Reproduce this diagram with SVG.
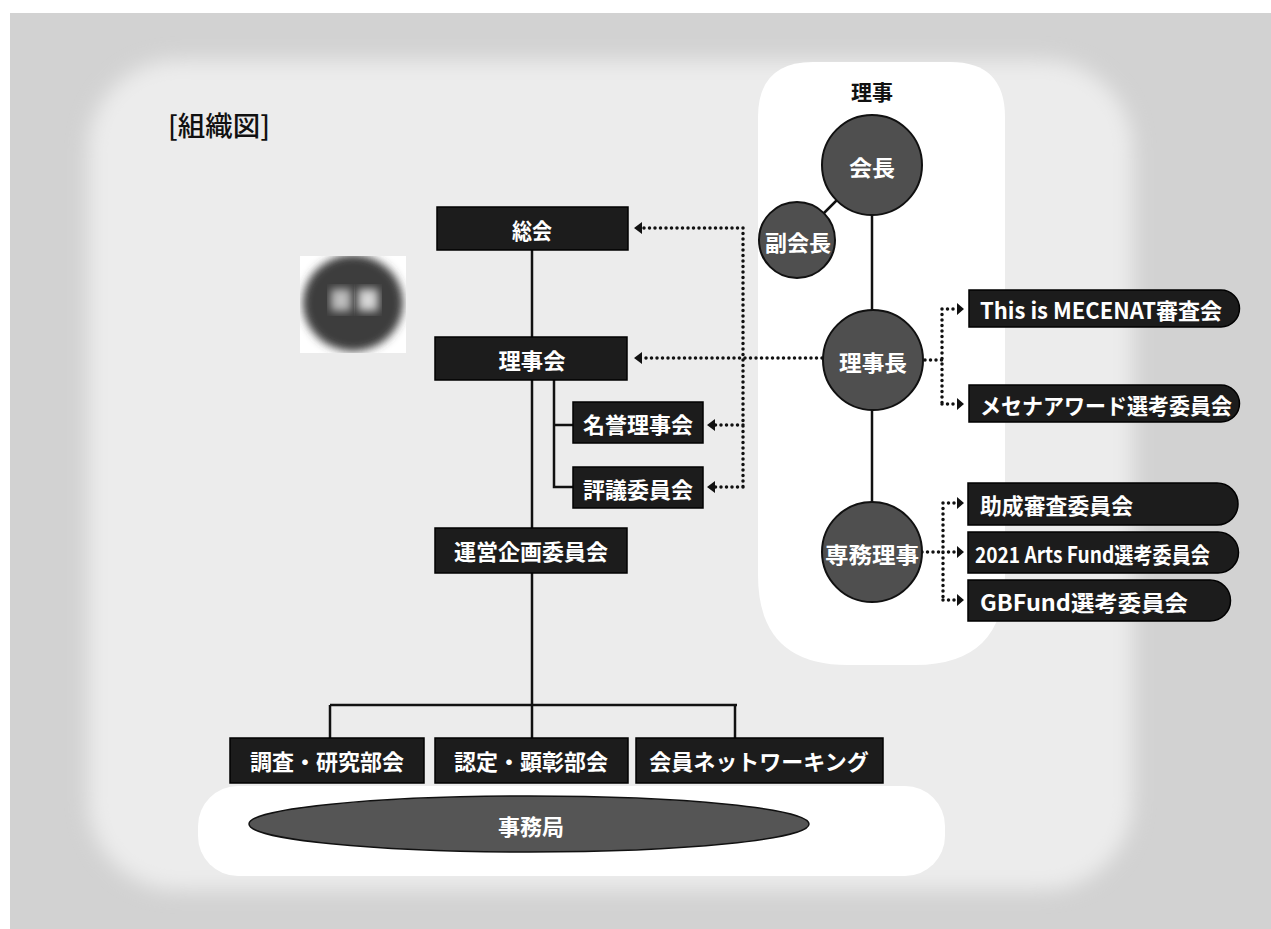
<svg xmlns="http://www.w3.org/2000/svg" width="1271" height="929" viewBox="0 0 1271 929">
<defs>
<style>
.box{fill:#1c1c1c;stroke:#000;stroke-width:1.5}
.circ{fill:#4f4f4f;stroke:#111;stroke-width:2}
.t{font-family:"Noto Sans CJK JP","Noto Sans",sans-serif;font-weight:bold;font-size:22px;fill:#fff;dominant-baseline:central}
.c{text-anchor:middle}
.s{text-anchor:start}
.ln{stroke:#111;stroke-width:2.5;fill:none}
.dot{stroke:#111;stroke-width:3.5;fill:none;stroke-dasharray:0 5.5;stroke-linecap:round}
.ah{fill:#111}
</style>
<filter id="soft" x="-10%" y="-10%" width="120%" height="120%"><feGaussianBlur stdDeviation="10"/></filter>
<filter id="blur" x="-20%" y="-20%" width="140%" height="140%"><feGaussianBlur stdDeviation="4"/></filter>
<clipPath id="clipB"><rect x="300" y="256" width="106" height="97"/></clipPath>
</defs>
<rect width="1271" height="929" fill="#fff"/>
<rect x="10" y="13" width="1261" height="916" fill="#d2d2d2"/>
<rect x="88" y="60" width="1045" height="830" rx="90" fill="#ececec" filter="url(#soft)"/>
<path d="M813,62 H950 Q1005,62 1005,117 V575 Q1005,665 915,665 H848 Q758,665 758,575 V117 Q758,62 813,62 Z" fill="#fff"/>
<rect x="198" y="786" width="747" height="90" rx="40" fill="#fff"/>

<text x="168" y="124" font-family="'Noto Sans CJK JP',sans-serif" font-weight="500" font-size="27" fill="#111" dominant-baseline="central" textLength="102" lengthAdjust="spacingAndGlyphs">[組織図]</text>
<text x="872" y="91" font-family="'Noto Sans CJK JP',sans-serif" font-weight="bold" font-size="21" fill="#111" text-anchor="middle" dominant-baseline="central">理事</text>

<g id="blurred-badge" clip-path="url(#clipB)">
<rect x="300" y="256" width="106" height="97" fill="#fff"/>
<ellipse cx="353" cy="303" rx="50" ry="48" fill="#3c3c3c" filter="url(#blur)"/>
<rect x="331" y="289" width="20" height="22" fill="#bdbdbd" filter="url(#blur)"/>
<rect x="358" y="289" width="20" height="22" fill="#d6d6d6" filter="url(#blur)"/>
</g>

<g id="connectors">
<path class="ln" d="M532,250 V337 M532,380 V528 M554,380 V487 H573 M554,425 H573 M532,572 V705 M330,705 H737 M330,705 V738 M532,705 V738 M735,705 V738"/>
<path class="ln" d="M872,215 V505 M837,200 L824,213"/>
<path class="dot" d="M743,228 H641 M743,228 V487 M743,425 H714 M743,487 H714 M822,358 H641"/>
<path class="dot" d="M925,360 H942 M942,309 V404 M942,309 H956 M942,404 H956"/>
<path class="dot" d="M922,552 H943 M943,503 V600 M943,503 H957 M943,552 H957 M943,600 H957"/>
<path class="ah" d="M634,228 l8,-6 v12 z M634,358 l8,-6 v12 z M707,425 l8,-6 v12 z M707,487 l8,-6 v12 z"/>
<path class="ah" d="M964,309 l-7,-6 v12 z M964,404 l-7,-6 v12 z M964,503 l-7,-6 v12 z M964,552 l-7,-6 v12 z M964,600 l-7,-6 v12 z"/>
</g>

<g id="n-soukai"><rect class="box" x="437" y="207" width="191" height="43"/><text class="t c" x="532" y="229" textLength="40" lengthAdjust="spacingAndGlyphs">総会</text></g>
<g id="n-rijikai"><rect class="box" x="435" y="337" width="192" height="43"/><text class="t c" x="532" y="359" textLength="67" lengthAdjust="spacingAndGlyphs">理事会</text></g>
<g id="n-meiyo"><rect class="box" x="573" y="402" width="130" height="41"/><text class="t c" x="638" y="423">名誉理事会</text></g>
<g id="n-hyogi"><rect class="box" x="573" y="467" width="130" height="41"/><text class="t c" x="638" y="488">評議委員会</text></g>
<g id="n-unei"><rect class="box" x="435" y="528" width="192" height="45"/><text class="t c" x="531" y="550">運営企画委員会</text></g>
<g id="n-chosa"><rect class="box" x="230" y="738" width="194" height="45"/><text class="t c" x="327" y="760">調査・研究部会</text></g>
<g id="n-nintei"><rect class="box" x="435" y="738" width="193" height="45"/><text class="t c" x="531" y="760">認定・顕彰部会</text></g>
<g id="n-kaiin"><rect class="box" x="636" y="738" width="247" height="45"/><text class="t c" x="759" y="760">会員ネットワーキング</text></g>
<g id="n-jimukyoku"><ellipse cx="529" cy="824" rx="280" ry="28" fill="#555" stroke="#111" stroke-width="1.5"/><text class="t c" x="531" y="825">事務局</text></g>

<g id="n-kaicho"><circle class="circ" cx="872" cy="165" r="50"/><text class="t c" x="872" y="166" textLength="46" lengthAdjust="spacingAndGlyphs">会長</text></g>
<g id="n-fukukaicho"><circle class="circ" cx="797" cy="240" r="38"/><text class="t c" x="798" y="241" textLength="66" lengthAdjust="spacingAndGlyphs">副会長</text></g>
<g id="n-rijicho"><circle class="circ" cx="873" cy="360" r="50"/><text class="t c" x="873" y="361" textLength="68" lengthAdjust="spacingAndGlyphs">理事長</text></g>
<g id="n-senmu"><circle class="circ" cx="872" cy="552" r="50"/><text class="t c" x="872" y="553" textLength="94" lengthAdjust="spacingAndGlyphs">専務理事</text></g>

<g id="n-mecenat"><path class="box" d="M969,290 H1221 A18.5,18.5 0 0 1 1221,327 H969 Z"/><text class="t s" x="980" y="309" textLength="242" lengthAdjust="spacingAndGlyphs">This is MECENAT審査会</text></g>
<g id="n-award"><path class="box" d="M969,385 H1221 A18.5,18.5 0 0 1 1221,422 H969 Z"/><text class="t s" x="980" y="404" textLength="252" lengthAdjust="spacingAndGlyphs">メセナアワード選考委員会</text></g>
<g id="n-josei"><path class="box" d="M968,483 H1217 A21,21 0 0 1 1217,525 H968 Z"/><text class="t s" x="980" y="504" textLength="153" lengthAdjust="spacingAndGlyphs">助成審査委員会</text></g>
<g id="n-arts"><path class="box" d="M968,532 H1218 A20.5,20.5 0 0 1 1218,573 H968 Z"/><text class="t s" x="975" y="553" textLength="235" lengthAdjust="spacingAndGlyphs">2021 Arts Fund選考委員会</text></g>
<g id="n-gbfund"><path class="box" d="M968,580 H1210 A20.5,20.5 0 0 1 1210,621 H968 Z"/><text class="t s" x="980" y="601" textLength="208" lengthAdjust="spacingAndGlyphs">GBFund選考委員会</text></g>
</svg>
